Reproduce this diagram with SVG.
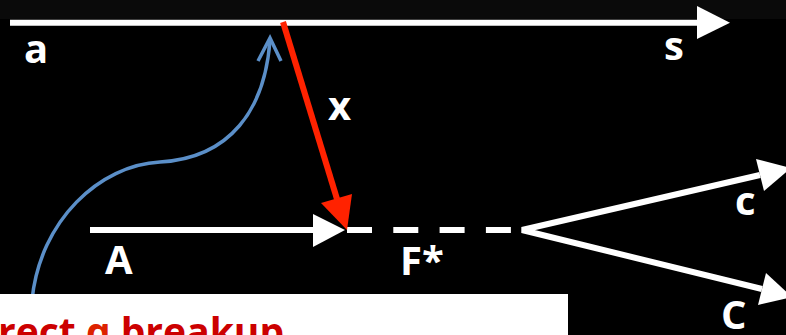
<svg xmlns="http://www.w3.org/2000/svg" width="786" height="335" viewBox="0 0 786 335">
<style>
.lbl{font-family:"Open Sans","DejaVu Sans",sans-serif;font-weight:bold;font-size:40px;fill:#fff}
.w{stroke:#fff;stroke-width:6;fill:none}
.wh{fill:#fff}
</style>
<rect x="0" y="0" width="786" height="335" fill="#000"/>
<rect x="0" y="0" width="786" height="19" fill="#0a0a0a"/>
<g id="connectors">
<line class="w" x1="10" y1="22.7" x2="698" y2="22.7"/>
<polygon class="wh" points="697,6 730,22.7 697,39"/>
<line class="w" x1="90" y1="230" x2="314" y2="230"/>
<polygon class="wh" points="313,214 345,230 313,247"/>
<line class="w" x1="347" y1="230" x2="512" y2="230" stroke-dasharray="25 21.3"/>
<polyline class="w" points="760,175 522,230 762,289" stroke-linejoin="miter"/>
<polygon class="wh" points="756,159 791,168 764,191"/>
<polygon class="wh" points="766,273 792,297 758,305"/>
<path d="M32,300 C40,220 100,165 160,162 C230,158 265,110 270,40" fill="none" stroke="#5b8fc8" stroke-width="3.5"/>
<polyline points="258,61 270,38 281,61" fill="none" stroke="#5b8fc8" stroke-width="3.5" stroke-linejoin="miter"/>
<line x1="283" y1="22" x2="337" y2="199" stroke="#ff2200" stroke-width="6"/>
<polygon points="321,203 347,230 352,194" fill="#ff2200"/>
</g>
<g id="label-a"><text class="lbl" x="24" y="63">a</text></g>
<g id="label-s"><text class="lbl" x="664" y="60">s</text></g>
<g id="label-x"><text class="lbl" x="328" y="120">x</text></g>
<g id="label-A"><text class="lbl" x="105" y="274">A</text></g>
<g id="label-F"><text class="lbl" x="400" y="275">F*</text></g>
<g id="label-c"><text class="lbl" x="735" y="215">c</text></g>
<g id="label-C"><text class="lbl" x="721" y="329">C</text></g>
<g id="caption">
<rect x="0" y="294" width="568" height="41" fill="#fff"/>
<text x="-2" y="346" style="font-family:'Open Sans','DejaVu Sans',sans-serif;font-weight:bold;font-size:39px;fill:#cc0000">rect <tspan fill="#dd2200">q</tspan> breakup</text>
</g>
</svg>
